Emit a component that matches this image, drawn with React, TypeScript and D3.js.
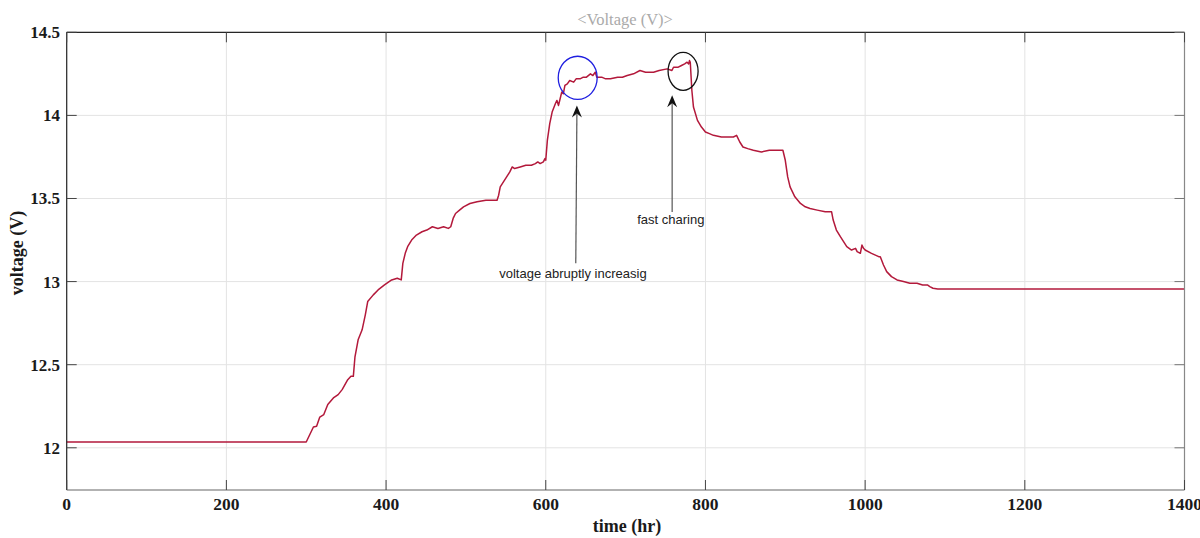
import React from "react";
import * as d3 from "d3";

const time = [0, 300, 309, 313, 317, 322, 327, 334, 340, 345, 352, 356, 359, 361, 365, 370, 374, 377, 384, 390, 398, 407, 414, 419, 421, 424, 427, 432, 438, 445, 451, 458, 465, 472, 478, 481, 484, 487, 492, 497, 505, 514, 525, 532, 539, 541, 543, 547, 551, 555, 558, 561, 568, 575, 582, 587, 590, 593, 597, 599, 600, 602, 605, 608, 612, 614, 616, 618, 620, 622, 624, 627, 630, 635, 638, 643, 647, 651, 656, 659, 662, 664, 670, 675, 681, 690, 696, 702, 710, 718, 725, 735, 742, 752, 758, 760, 766, 770, 774, 777, 779, 780, 781, 783, 785, 790, 795, 800, 805, 810, 820, 830, 835, 839, 843, 847, 853, 860, 870, 880, 890, 897, 900, 903, 906, 912, 919, 925, 931, 940, 950, 958, 960, 964, 969, 973, 977, 983, 988, 990, 994, 996, 998, 1000, 1008, 1017, 1019, 1023, 1027, 1033, 1040, 1048, 1056, 1065, 1072, 1078, 1081, 1085, 1091, 1098, 1400];
const voltage = [12.035, 12.035, 12.125, 12.13, 12.185, 12.2, 12.26, 12.3, 12.32, 12.35, 12.41, 12.43, 12.43, 12.545, 12.65, 12.71, 12.8, 12.88, 12.92, 12.95, 12.98, 13.01, 13.02, 13.01, 13.11, 13.17, 13.21, 13.25, 13.28, 13.3, 13.31, 13.33, 13.32, 13.33, 13.32, 13.33, 13.38, 13.41, 13.43, 13.45, 13.47, 13.48, 13.49, 13.49, 13.49, 13.52, 13.57, 13.6, 13.63, 13.66, 13.69, 13.68, 13.69, 13.7, 13.7, 13.71, 13.72, 13.71, 13.72, 13.74, 13.73, 13.85, 13.95, 14.02, 14.07, 14.09, 14.06, 14.1, 14.14, 14.13, 14.18, 14.19, 14.21, 14.2, 14.22, 14.22, 14.23, 14.23, 14.25, 14.24, 14.26, 14.23, 14.23, 14.22, 14.22, 14.23, 14.23, 14.24, 14.25, 14.27, 14.26, 14.26, 14.27, 14.28, 14.27, 14.29, 14.29, 14.3, 14.31, 14.32, 14.31, 14.33, 14.32, 14.15, 14.05, 13.97, 13.93, 13.9, 13.89, 13.88, 13.87, 13.87, 13.87, 13.88, 13.84, 13.81, 13.8, 13.79, 13.78, 13.79, 13.79, 13.79, 13.73, 13.63, 13.57, 13.51, 13.47, 13.45, 13.44, 13.43, 13.42, 13.42, 13.37, 13.31, 13.27, 13.24, 13.21, 13.19, 13.2, 13.18, 13.17, 13.22, 13.2, 13.19, 13.17, 13.15, 13.15, 13.1, 13.06, 13.03, 13.01, 13.0, 12.99, 12.99, 12.98, 12.98, 12.97, 12.96, 12.955, 12.955, 12.955];

const xTicks = [0, 200, 400, 600, 800, 1000, 1200, 1400];
const yTicks = [12, 12.5, 13, 13.5, 14, 14.5];

const titleText = "<Voltage (V)>";
const xLabel = "time (hr)";
const yLabel = "voltage (V)";

// annotations in data coordinates
const ellipses = [
  { cx: 640, cy: 14.226, rxH: 24.4, ryV: 0.13, color: "#1f1fe0" },
  { cx: 772, cy: 14.265, rxH: 18.8, ryV: 0.114, color: "#111" },
];
const arrows = [
  { x: 637.6, yFrom: 13.11, yTo: 14.06, xTo: 639 },
  { x: 758.3, yFrom: 13.418, yTo: 14.121, xTo: 758.3 },
];
const notes = [
  { x: 634, y: 13.02, text: "voltage abruptly increasig" },
  { x: 756.6, y: 13.345, text: "fast charing" },
];

export default function App() {
  const W = 1200, H = 538;
  const L = 66.7, R = 1184.5, T = 32.3, B = 490;
  const x = d3.scaleLinear().domain([0, 1400]).range([L, R]);
  const y = d3.scaleLinear().domain([11.746, 14.5]).range([B, T]);
  const pts: [number, number][] = time.map((t, i) => [t, voltage[i]]);
  const line = d3.line<[number, number]>().x(d => x(d[0])).y(d => y(d[1]));
  const serif = "'Liberation Serif', 'Times New Roman', serif";
  const sans = "'Liberation Sans', Arial, sans-serif";
  return (
    <svg width={W} height={H} style={{ position: "absolute", left: 0, top: 0, background: "#fff" }}>
      <rect x={0} y={0} width={W} height={H} fill="#fff" />
      {xTicks.map(t => (
        <line key={"gx" + t} x1={x(t)} x2={x(t)} y1={T} y2={B} stroke="#e3e3e3" strokeWidth={1} />
      ))}
      {yTicks.map(t => (
        <line key={"gy" + t} x1={L} x2={R} y1={y(t)} y2={y(t)} stroke="#e3e3e3" strokeWidth={1} />
      ))}
      <path d={line(pts) || ""} fill="none" stroke="#b3193b" strokeWidth={1.5} strokeLinejoin="round" />
      <line x1={L} x2={R} y1={T} y2={T} stroke="#262626" strokeWidth={1.2} />
      <line x1={L} x2={L} y1={T} y2={B} stroke="#262626" strokeWidth={1.2} />
      <line x1={L} x2={R} y1={B} y2={B} stroke="#666" strokeWidth={1.2} />
      <line x1={R} x2={R} y1={T} y2={B} stroke="#888" strokeWidth={1.2} />
      {xTicks.map(t => (
        <g key={"tx" + t}>
          <line x1={x(t)} x2={x(t)} y1={B} y2={B - 10} stroke="#444" />
          <line x1={x(t)} x2={x(t)} y1={T} y2={T + 10} stroke="#444" />
          <text x={x(t)} y={510} textAnchor="middle" fontFamily={serif} fontWeight="bold" fontSize={17.5} fill="#1a1a1a">{t}</text>
        </g>
      ))}
      {yTicks.map(t => (
        <g key={"ty" + t}>
          <line x1={L} x2={L + 10} y1={y(t)} y2={y(t)} stroke="#444" />
          <line x1={R} x2={R - 10} y1={y(t)} y2={y(t)} stroke="#777" />
          <text x={60} y={y(t)} dy="0.35em" textAnchor="end" fontFamily={serif} fontWeight="bold" fontSize={17} fill="#1a1a1a">{t}</text>
        </g>
      ))}
      <text x={625} y={25} textAnchor="middle" fontFamily={serif} fontSize={16.5} fill="#aaa">{titleText}</text>
      <text x={627} y={532} textAnchor="middle" fontFamily={serif} fontWeight="bold" fontSize={18} fill="#1a1a1a">{xLabel}</text>
      <text transform={`translate(23,253) rotate(-90)`} textAnchor="middle" fontFamily={serif} fontWeight="bold" fontSize={18} fill="#1a1a1a">{yLabel}</text>
      {ellipses.map((e, i) => (
        <ellipse key={"e" + i} cx={x(e.cx)} cy={y(e.cy)} rx={x(e.cx + e.rxH) - x(e.cx)} ry={y(e.cy - e.ryV) - y(e.cy)} fill="none" stroke={e.color} strokeWidth={1.3} />
      ))}
      {arrows.map((a, i) => {
        const tx = x(a.xTo), ty = y(a.yTo);
        return (
          <g key={"a" + i}>
            <line x1={x(a.x)} x2={tx} y1={y(a.yFrom)} y2={ty + 8} stroke="#555" strokeWidth={1.2} />
            <path d={`M${tx},${ty} L${tx - 5},${ty + 12} L${tx},${ty + 8} L${tx + 5},${ty + 12} Z`} fill="#111" />
          </g>
        );
      })}
      {notes.map((n, i) => (
        <text key={"n" + i} x={x(n.x)} y={y(n.y)} textAnchor="middle" fontFamily={sans} fontSize={13} fill="#222">{n.text}</text>
      ))}
    </svg>
  );
}
